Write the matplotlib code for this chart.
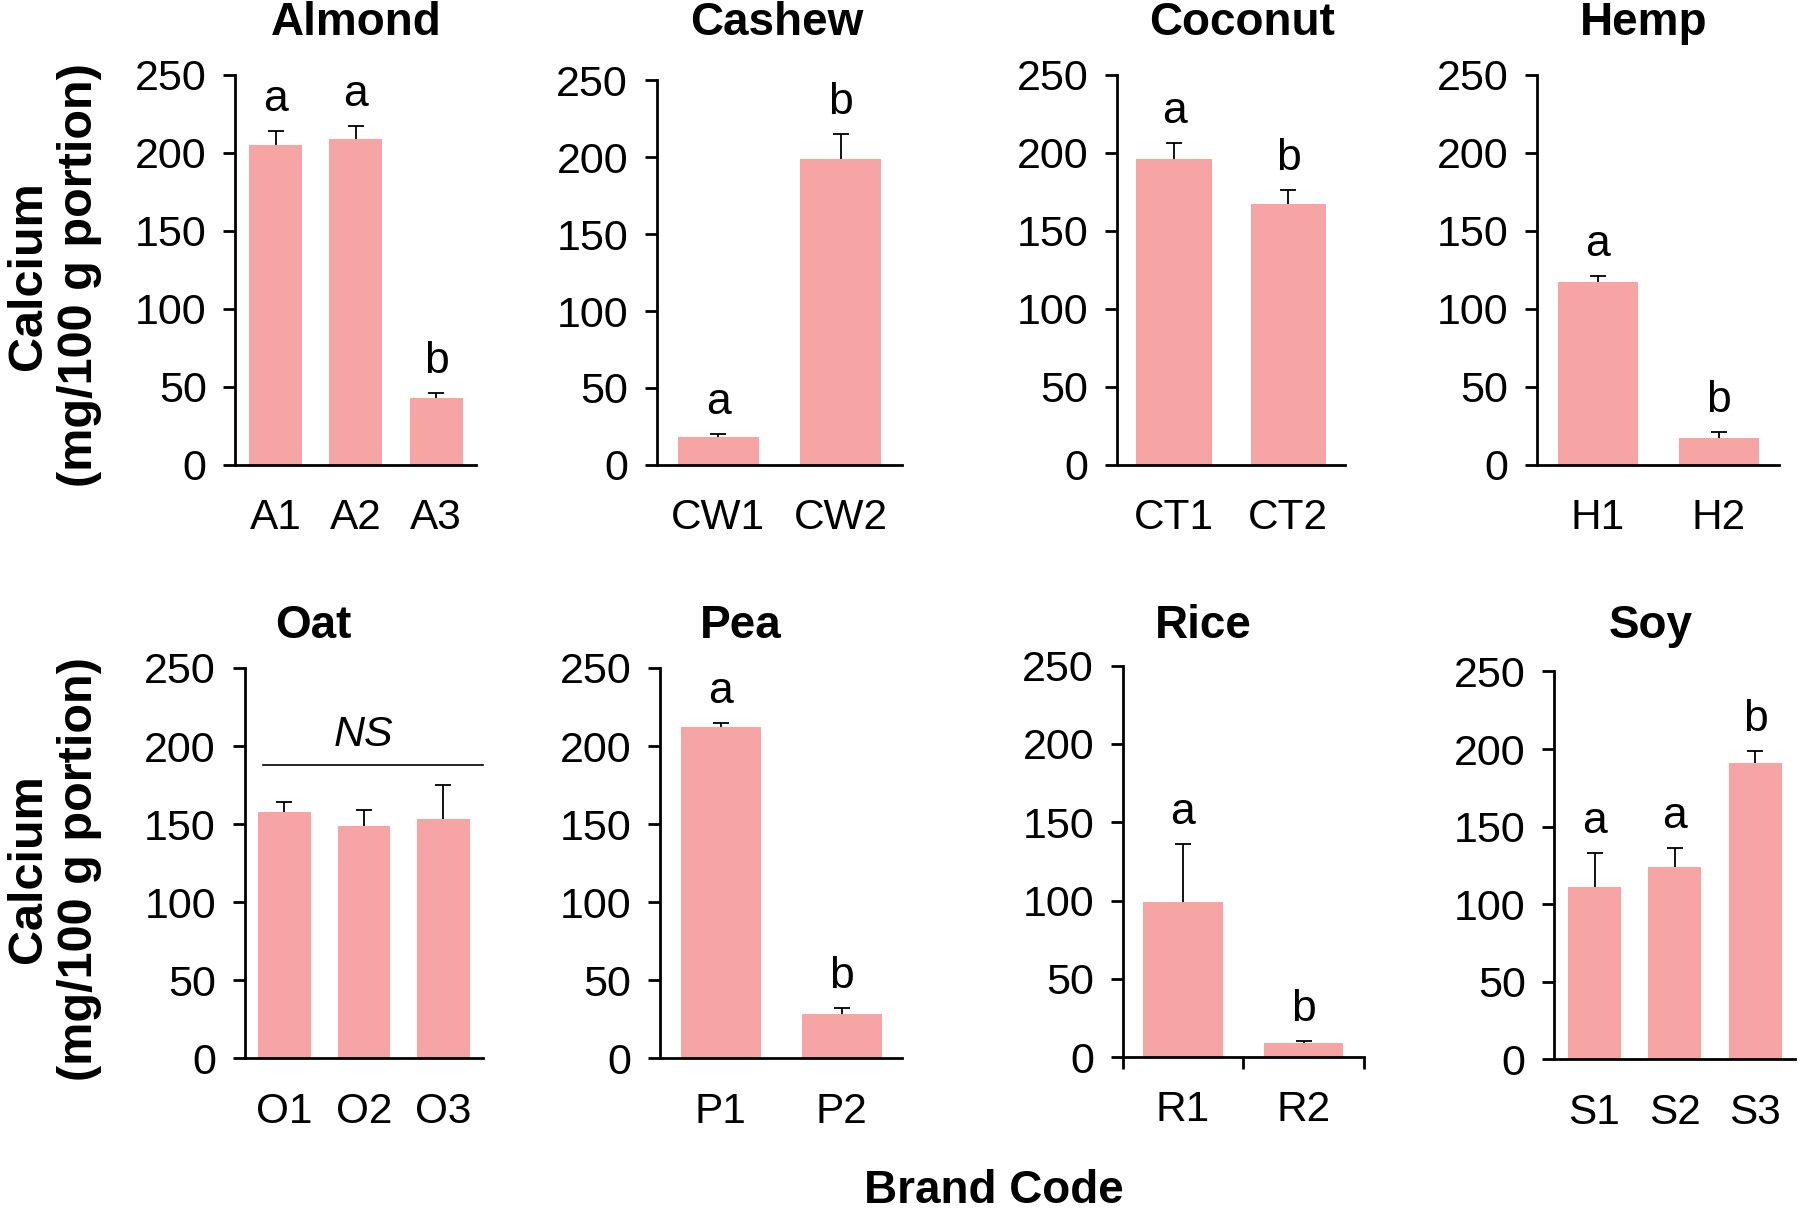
import matplotlib
matplotlib.use("Agg")
import matplotlib.pyplot as plt

plt.rcParams['font.family'] = ['Liberation Sans', 'DejaVu Sans']

# calcium content per brand
milk_types = ['Almond', 'Cashew', 'Coconut', 'Hemp', 'Oat', 'Pea', 'Rice', 'Soy']
brand_codes = [['A1', 'A2', 'A3'], ['CW1', 'CW2'], ['CT1', 'CT2'], ['H1', 'H2'],
               ['O1', 'O2', 'O3'], ['P1', 'P2'], ['R1', 'R2'], ['S1', 'S2', 'S3']]
calcium = [[205, 209, 43], [18, 199], [196, 167], [117, 17],
           [158, 149, 153], [212, 28], [99, 9], [111, 124, 191]]
calcium_err = [[9, 8, 3], [2, 16], [10, 9], [4, 4],
               [6, 10, 22], [3, 4], [37, 1], [22, 12, 8]]
sig_letters = [['a', 'a', 'b'], ['a', 'b'], ['a', 'b'], ['a', 'b'],
               [], ['a', 'b'], ['a', 'b'], ['a', 'a', 'b']]
ns_label = 'NS'
ns_level = 188
yticks = [0, 50, 100, 150, 200, 250]

bar_color = '#F7A4A5'

# panel boxes measured on a 1568x1056 view: left, right, bottom(0), top(250), title x
W, H = 1568.0, 1056.0
boxes = [(205, 415, 405, 65, 310), (572, 786, 405, 70, 677),
         (973, 1172, 405, 65, 1082), (1339, 1550, 405, 65, 1432),
         (213, 421, 922, 582, 273), (575, 786, 922, 582, 645),
         (978, 1188, 921, 580, 1048), (1354, 1564, 923, 585, 1438)]
title_y = [1 - 20 / H, 1 - 545 / H]

fig = plt.figure(figsize=(18, 12.12), dpi=100)

for i, name in enumerate(milk_types):
    l, r, b, t, tx = boxes[i]
    ax = fig.add_axes([l / W, 1 - b / H, (r - l) / W, (b - t) / H])
    n = len(brand_codes[i])
    xs = list(range(n))
    ax.bar(xs, calcium[i], width=0.66, color=bar_color, zorder=2)
    # only the upper whisker shows, the rest sits behind the bar
    ax.errorbar(xs, calcium[i], yerr=calcium_err[i], fmt='none',
                ecolor='black', elinewidth=1.3, capsize=5.5, capthick=1.3, zorder=1)
    for x, v, e, s in zip(xs, calcium[i], calcium_err[i], sig_letters[i]):
        ax.text(x, v + e + 7, s, ha='center', va='bottom', fontsize=32)
    if name == 'Oat':
        ax.plot([-0.27, n - 0.5], [ns_level, ns_level], color='black', lw=1.2,
                clip_on=False)
        ax.text(1.0, ns_level + 6, ns_label, ha='center', va='bottom',
                fontsize=31, style='italic')

    ax.set_xlim(-0.5, n - 0.5)
    ax.set_ylim(0, 250)
    ax.set_yticks(yticks)
    ax.set_xticks(xs)
    ax.set_xticklabels(brand_codes[i])
    for side in ['top', 'right']:
        ax.spines[side].set_visible(False)
    for side in ['left', 'bottom']:
        ax.spines[side].set_linewidth(2.0)
    ax.tick_params(axis='y', direction='out', length=8.6, width=2.0,
                   labelsize=31, pad=12)
    if name == 'Rice':
        ax.set_xticks([k - 0.5 for k in range(n + 1)], minor=True)
        ax.tick_params(axis='x', which='minor', direction='out', length=8.6, width=2.0)
        ax.tick_params(axis='x', which='major', length=0, labelsize=30.5, pad=24)
    else:
        ax.tick_params(axis='x', length=0, labelsize=30.5, pad=24)

    fig.text(tx / W, title_y[i // 4], name, ha='center', va='center',
             fontsize=33, fontweight='bold')

ylab = 'Calcium\n(mg/100 g portion)'
fig.text(47 / W, 1 - 240 / H, ylab, rotation=90, ha='center', va='center',
         fontsize=35, fontweight='bold', multialignment='center', linespacing=1.15)
fig.text(47 / W, 1 - 757 / H, ylab, rotation=90, ha='center', va='center',
         fontsize=35, fontweight='bold', multialignment='center', linespacing=1.15)
fig.text(866 / W, 1 - 1038 / H, 'Brand Code', ha='center', va='center',
         fontsize=33, fontweight='bold')

fig.savefig('out.png', dpi=100)
